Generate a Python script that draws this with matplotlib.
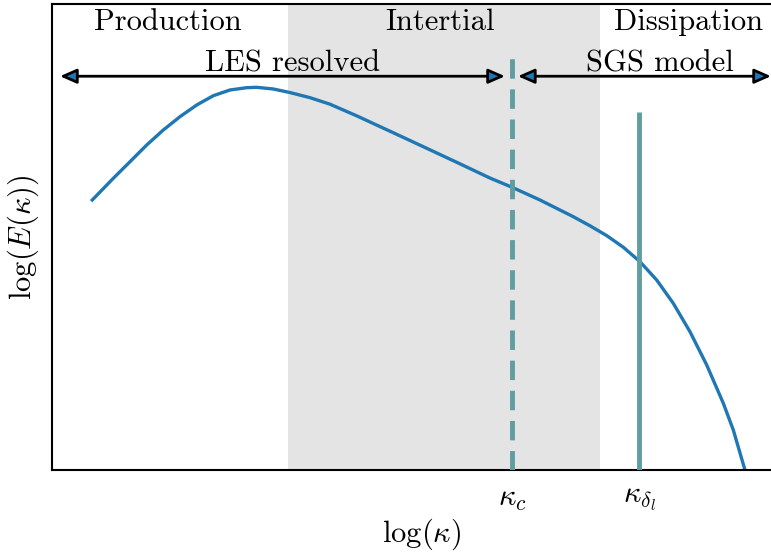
import matplotlib
matplotlib.use('Agg')
import matplotlib.pyplot as plt
from matplotlib.patches import FancyArrowPatch

# Computer Modern look
plt.rcParams['font.family'] = 'serif'
plt.rcParams['font.serif'] = ['cmr10']
plt.rcParams['mathtext.fontset'] = 'cm'
plt.rcParams['axes.formatter.use_mathtext'] = True

# spectrum (log k, log E), arbitrary units
logk = [0.560, 0.853, 1.085, 1.317, 1.548, 1.780, 2.013, 2.243, 2.476, 2.708,
        2.847, 3.078, 3.310, 3.588, 3.866, 4.238, 4.701, 5.164, 5.629, 6.092,
        6.394, 6.787, 7.250, 7.483, 7.715, 7.946, 8.178, 8.410, 8.641, 8.873,
        9.106, 9.337, 9.476, 9.638]
logE = [5.794, 6.260, 6.616, 6.974, 7.296, 7.582, 7.833, 8.032, 8.155, 8.204,
        8.212, 8.176, 8.100, 7.990, 7.850, 7.600, 7.270, 6.938, 6.603, 6.265,
        6.070, 5.794, 5.436, 5.240, 5.030, 4.780, 4.470, 4.077, 3.577, 2.968,
        2.253, 1.431, 0.858, 0.0]

inertial_range = (3.282, 7.622)
k_c = 6.398
k_c_top = 8.91
k_dl = 8.164
k_dl_top = 7.68

les_arrow = (0.111, 6.30)
sgs_arrow = (6.48, 10.0)
arrow_y = 8.45

ranges = ['Production', 'Intertial', 'Dissipation']
range_x = [1.613, 5.396, 8.846]
tick_pos = [k_c, k_dl]
tick_labels = [r'$\kappa_c$', r'$\kappa_{\delta_l}$']

fs = 22

fig = plt.figure(figsize=(7.71, 5.54), dpi=100)
ax = fig.add_axes([52/771, 84/554, 740/771, 466/554])

ax.axvspan(inertial_range[0], inertial_range[1], color='0.894', lw=0, zorder=0)
ax.plot(logk, logE, color='#1f77b4', lw=2.4, zorder=2)
ax.vlines(k_c, 0, k_c_top, color='#5f9ea0', lw=3.5, linestyles=(0, (4, 2.2)), zorder=3)
ax.vlines(k_dl, 0, k_dl_top, color='#5f9ea0', lw=3.5, zorder=3)

for a, b in [les_arrow, sgs_arrow]:
    arr = FancyArrowPatch((a, arrow_y), (b, arrow_y),
                          arrowstyle='<|-|>,head_length=0.5,head_width=0.22',
                          mutation_scale=20, facecolor='#1f77b4', edgecolor='k',
                          lw=2, shrinkA=0, shrinkB=0, zorder=4)
    ax.add_patch(arr)

ax.text(3.338, 8.72, 'LES resolved', ha='center', va='center', fontsize=fs)
ax.text(8.456, 8.72, 'SGS model', ha='center', va='center', fontsize=fs)
for name, xx in zip(ranges, range_x):
    ax.text(xx, 9.6, name, ha='center', va='center', fontsize=fs)

ax.set_xlim(0, 740 / 71.9)
ax.set_ylim(0, 10)
ax.set_xticks(tick_pos)
ax.set_xticklabels(tick_labels, fontsize=fs)
ax.tick_params(axis='x', length=0, pad=11)
ax.set_yticks([])
ax.set_xlabel(r'$\log(\kappa)$', fontsize=fs, labelpad=3)
ax.set_ylabel(r'$\log(E(\kappa))$', fontsize=fs, labelpad=8)
for s in ax.spines.values():
    s.set_linewidth(1.5)

plt.savefig('out.png', dpi=100)
